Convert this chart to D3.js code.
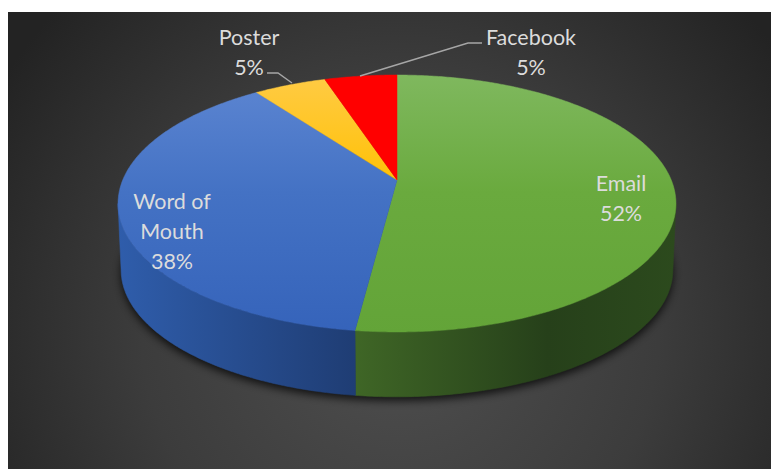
<!DOCTYPE html>
<html>
<head>
<meta charset="utf-8">
<script src="https://cdn.jsdelivr.net/npm/d3@7/dist/d3.min.js"></script>
<style>
  html, body { margin: 0; padding: 0; background: #ffffff; }
  svg { display: block; }
</style>
</head>
<body>
<svg id="chart" width="772" height="469"></svg>
<script>
// ---- data ----
const categories = ["Email", "Word of Mouth", "Poster", "Facebook"];
const values = [52, 38, 5, 5];
const percentLabels = ["52%", "38%", "5%", "5%"];

// ---- styling ----
const topLight = ["#7fb85e", "#5d86d2", "#ffcb45", "#ff0000"];
const topMid = ["#6aaa3e", "#4472c4", "#ffc000", "#ff0000"];
const topDark = ["#63a438", "#3563ba", "#f2b500", "#ff0000"];
const sideColorsA = ["#3f6626", "#2f5dab", "#b38600", "#b30000"];
const sideColorsB = ["#26401a", "#1f3d74", "#8a6800", "#8a0000"];

const W = 772, H = 469;
const svg = d3.select("#chart");
const defs = svg.append("defs");

// background panel with soft radial light
const bg = defs.append("radialGradient").attr("id", "bgGrad")
  .attr("gradientUnits", "userSpaceOnUse")
  .attr("cx", 400).attr("cy", 330).attr("r", 470);
bg.append("stop").attr("offset", "0").attr("stop-color", "#4f4f4f");
bg.append("stop").attr("offset", "0.55").attr("stop-color", "#3c3c3c");
bg.append("stop").attr("offset", "1").attr("stop-color", "#232323");
svg.append("rect").attr("x", 8).attr("y", 12).attr("width", 763).attr("height", H - 12)
  .attr("fill", "url(#bgGrad)");

// ---- perspective projection of the top face of the disc ----
const cx = 397, cy = 180;          // projected centre of the top face
const F = 1337, Dist = 4.875;      // focal length and camera distance
const sinA = 0.4528, cosA = Math.sqrt(1 - sinA * sinA); // camera elevation

function projectTop(theta, r) {
  const X = r * Math.sin(theta), Z = -r * Math.cos(theta);
  const depth = Dist - Z * cosA;
  const up = -Z * sinA;
  return [cx + F * X / depth, cy - F * up / depth];
}
// bottom face: top face pulled down and very slightly shrunk
const bottomScale = 0.989, bottomDrop = 66.5;
function projectBottom(theta) {
  const p = projectTop(theta, 1);
  return [cx + (p[0] - cx) * bottomScale, cy + (p[1] - cy) * bottomScale + bottomDrop];
}

const pie = d3.pie().sort(null).value(d => d).startAngle(0).endAngle(2 * Math.PI);
const arcs = pie(values);

function arcPoints(a0, a1, fn) {
  const n = Math.max(2, Math.ceil((a1 - a0) / 0.01));
  return d3.range(n + 1).map(i => fn(a0 + (a1 - a0) * i / n));
}
const topFn = t => projectTop(t, 1);

const line = d3.line();

// drop shadow under the disc
const shadowF = defs.append("filter").attr("id", "shadow")
  .attr("x", "-20%").attr("y", "-20%").attr("width", "140%").attr("height", "140%");
shadowF.append("feGaussianBlur").attr("stdDeviation", 4);
svg.append("path")
  .attr("d", line(arcPoints(0, 2 * Math.PI, projectBottom)) + "Z")
  .attr("transform", "translate(0,4)")
  .attr("fill", "#000").attr("opacity", 0.75)
  .attr("filter", "url(#shadow)");

// outer wall is seen between the left- and rightmost points of the rim
const samples = d3.range(0, 2 * Math.PI, 0.001);
const wallStart = samples[d3.maxIndex(samples, t => projectTop(t, 1)[0])];
const wallEnd = samples[d3.minIndex(samples, t => projectTop(t, 1)[0])];

const gWalls = svg.append("g");
arcs.forEach((a, i) => {
  const s = Math.max(a.startAngle, wallStart), e = Math.min(a.endAngle, wallEnd);
  if (e <= s) return;
  const topPts = arcPoints(s, e, topFn);
  const botPts = arcPoints(s, e, projectBottom).reverse();
  const xs = topPts.map(p => p[0]);
  const gid = "wall" + i;
  const gr = defs.append("linearGradient").attr("id", gid)
    .attr("gradientUnits", "userSpaceOnUse")
    .attr("x1", d3.min(xs)).attr("x2", d3.max(xs)).attr("y1", 0).attr("y2", 0);
  gr.append("stop").attr("offset", 0).attr("stop-color", sideColorsA[i]);
  gr.append("stop").attr("offset", i === 0 ? 0.6 : 1).attr("stop-color", sideColorsB[i]);
  if (i === 0) gr.append("stop").attr("offset", 1).attr("stop-color", "#2c4a1d");
  gWalls.append("path")
    .attr("d", line(topPts.concat(botPts)) + "Z")
    .attr("fill", `url(#${gid})`)
    .attr("stroke", `url(#${gid})`).attr("stroke-width", 0.6);
});

// top face slices
const gTop = svg.append("g");
const apex = projectTop(0, 0);
arcs.forEach((a, i) => {
  const pts = [apex].concat(arcPoints(a.startAngle, a.endAngle, topFn));
  const gid = "top" + i;
  const gr = defs.append("linearGradient").attr("id", gid)
    .attr("gradientUnits", "userSpaceOnUse")
    .attr("x1", 0).attr("x2", 0).attr("y1", 75).attr("y2", 335);
  gr.append("stop").attr("offset", 0).attr("stop-color", topLight[i]);
  gr.append("stop").attr("offset", 0.45).attr("stop-color", topMid[i]);
  gr.append("stop").attr("offset", 1).attr("stop-color", topDark[i]);
  gTop.append("path")
    .attr("d", line(pts) + "Z")
    .attr("fill", `url(#${gid})`)
    .attr("stroke", `url(#${gid})`).attr("stroke-width", 0.5);
});

// ---- data labels ----
const labelFont = "Lato, 'Open Sans', sans-serif";
const labelColor = "#dcdcdc";
const labelLayout = [
  { x: 621, y: 191, lines: [categories[0], percentLabels[0]] },
  { x: 172, y: 209, lines: ["Word of", "Mouth", percentLabels[1]] },
  { x: 249, y: 45, lines: [categories[2], percentLabels[2]] },
  { x: 531, y: 45, lines: [categories[3], percentLabels[3]] }
];
const gLab = svg.append("g")
  .attr("font-family", labelFont).attr("font-size", 21.5)
  .attr("fill", labelColor).attr("text-anchor", "middle");
labelLayout.forEach(l => {
  const t = gLab.append("text").attr("x", l.x).attr("y", l.y);
  l.lines.forEach((s, k) => t.append("tspan").attr("x", l.x).attr("dy", k === 0 ? 0 : 30).text(s));
});

// leader lines for the two thin slices
const leaders = [
  [[267, 73], [278, 73], [292, 83]],
  [[482, 43], [468, 43], [360, 76]]
];
svg.append("g").selectAll("path").data(leaders).join("path")
  .attr("d", d => line(d))
  .attr("fill", "none").attr("stroke", "#a6a6a6").attr("stroke-width", 1.5);
</script>
</body>
</html>
